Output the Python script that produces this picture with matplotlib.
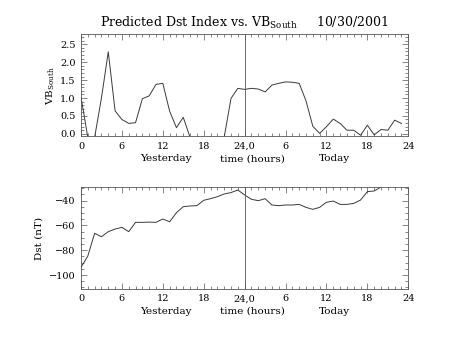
import matplotlib
matplotlib.use("Agg")
import matplotlib.pyplot as plt
import matplotlib.transforms as mtransforms
from matplotlib.ticker import MultipleLocator, FixedLocator, FormatStrFormatter

plt.rcParams["font.family"] = ["DejaVu Serif"]
plt.rcParams["mathtext.fontset"] = "custom"
plt.rcParams["mathtext.rm"] = "DejaVu Serif"

# hourly values, hour 0 = start of yesterday, hour 24 = start of today
vb_hours = list(range(48))
vb_south = [1.03, -0.10, -0.10, 1.00, 2.29, 0.64, 0.40, 0.29, 0.31, 0.98,
            1.06, 1.38, 1.41, 0.63, 0.17, 0.46, -0.10, -0.10, -0.10, -0.10,
            -0.10, -0.10, 0.99, 1.27, 1.24, 1.27, 1.25, 1.17, 1.36, 1.41,
            1.45, 1.44, 1.41, 0.92, 0.21, 0.01, 0.20, 0.41, 0.29, 0.10,
            0.10, -0.04, 0.24, -0.03, 0.12, 0.10, 0.38, 0.29]

dst_hours = list(range(45))
dst = [-93.8, -84.7, -66.3, -69.1, -65.0, -62.9, -61.5, -65.0, -57.5, -57.5,
       -57.3, -57.5, -54.8, -57.0, -49.7, -44.8, -44.3, -44.0, -39.7, -38.4,
       -36.8, -34.6, -33.5, -31.4, -35.4, -38.9, -40.0, -38.4, -43.5, -44.0,
       -43.5, -43.5, -43.0, -45.4, -47.0, -45.4, -41.3, -40.3, -43.0, -43.0,
       -42.2, -39.5, -32.7, -32.2, -29.0]

xticks = [0, 6, 12, 18, 24, 30, 36, 42, 48]
xticklabels = ["0", "6", "12", "18", "24,0", "6", "12", "18", "24"]
day_labels = ["Yesterday", "time (hours)", "Today"]
day_label_x = [12.4, 25.2, 37.1]

line_color = "#3a3a3a"

fig = plt.figure(figsize=(4.54, 3.41), dpi=100)
ax1 = fig.add_axes([0.1784, 0.6003, 0.7209, 0.2991])
ax2 = fig.add_axes([0.1784, 0.1534, 0.7209, 0.2974])


def style_axis(ax, ymajor, yminor):
    ax.set_xlim(0, 48)
    ax.xaxis.set_major_locator(FixedLocator(xticks))
    ax.set_xticklabels(xticklabels)
    ax.xaxis.set_minor_locator(MultipleLocator(1))
    ax.yaxis.set_major_locator(MultipleLocator(ymajor))
    ax.yaxis.set_minor_locator(MultipleLocator(yminor))
    ax.tick_params(which="both", direction="in", top=True, right=True,
                   width=0.5, color="#555555", labelsize=7, pad=4)
    ax.tick_params(which="major", length=4)
    ax.tick_params(which="minor", length=2)
    for sp in ax.spines.values():
        sp.set_linewidth(0.6)
        sp.set_color("#555555")
    ax.axvline(24, color="#555555", linewidth=0.6)
    trans = mtransforms.blended_transform_factory(ax.transData, ax.transAxes)
    for lab, xp in zip(day_labels, day_label_x):
        ax.text(xp, -0.22, lab, transform=trans, ha="center", va="center",
                fontsize=7.5)


ax1.plot(vb_hours, vb_south, color=line_color, linewidth=0.7)
ax1.set_ylim(-0.07, 2.78)
style_axis(ax1, 0.5, 0.1)
ax1.yaxis.set_major_formatter(FormatStrFormatter("%.1f"))
ax1.set_ylabel(r"VB$_{\mathrm{South}}$", fontsize=7.5, labelpad=2)
ax1.set_title(r"Predicted Dst Index vs. VB$_{\mathrm{South}}$     10/30/2001",
              fontsize=9, pad=5)

ax2.plot(dst_hours, dst, color=line_color, linewidth=0.7)
ax2.set_ylim(-111, -29.2)
style_axis(ax2, 20, 5)
ax2.set_ylabel("Dst (nT)", fontsize=7.5, labelpad=4)

fig.savefig("out.png", dpi=100)
